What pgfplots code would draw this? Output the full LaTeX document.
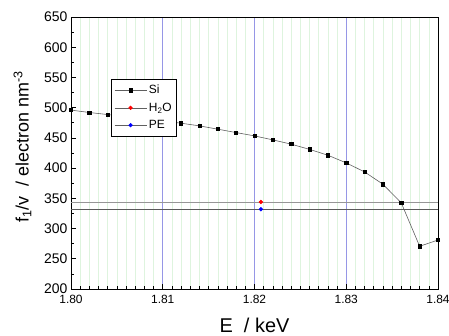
\documentclass[border=0pt]{standalone}
\usepackage{pgfplots}
\pgfplotsset{compat=1.18}
\usepackage{fontspec}
\setmainfont{Liberation Sans}
\definecolor{majgrid}{RGB}{150,150,230}
\definecolor{mingrid}{RGB}{222,244,222}
\definecolor{curve}{RGB}{95,95,95}
\begin{document}
\begin{tikzpicture}
\begin{axis}[
  scale only axis,
  width=367bp, height=272bp,
  at={(0,0)}, anchor=south west,
  xmin=1.80, xmax=1.84, ymin=200, ymax=650,
  xtick={1.80,1.81,1.82,1.83,1.84},
  ytick={200,250,...,650},
  minor x tick num=9,
  minor y tick num=1,
  xmajorgrids, xminorgrids,
  major grid style={majgrid, line width=0.8pt},
  minor grid style={mingrid, line width=0.6pt},
  tick align=inside,
  xtick pos=bottom, ytick pos=left,
  major tick length=5bp, minor tick length=3bp,
  tick style={black, line width=0.6pt},
  axis line style={black, line width=0.8pt},
  /pgf/number format/assume math mode=true,
  x tick label style={/pgf/number format/.cd, fixed, fixed zerofill, precision=2, /tikz/.cd, font=\fontsize{12}{14}\selectfont, yshift=-3bp},
  y tick label style={font=\fontsize{14}{16}\selectfont},
  xlabel={E~~/ keV},
  ylabel={f\textsubscript{1}/v~~/ electron nm\textsuperscript{-3}},
  xlabel style={font=\fontsize{20}{22}\selectfont, yshift=-7bp},
  ylabel style={font=\fontsize{18}{20}\selectfont, yshift=6bp, xshift=6bp},
  legend style={at={(0.109,0.772)}, anchor=north west, draw=black, line width=0.6pt,
    font=\fontsize{12}{14}\selectfont, row sep=3.5bp, inner xsep=3bp, inner ysep=4bp},
  legend cell align=left,
  legend image code/.code={\draw[mark repeat=2,mark phase=2,#1] plot coordinates {(0bp,0bp) (16bp,0bp) (32bp,0bp)};},
]
% horizontal reference lines
\addplot[color={rgb,255:red,150;green,150;blue,150}, line width=0.8pt, forget plot] coordinates {(1.80,344) (1.84,344)};
\addplot[color={rgb,255:red,90;green,90;blue,90}, line width=0.8pt, forget plot] coordinates {(1.80,332) (1.84,332)};
% Si
\addplot[curve, line width=0.6pt, mark=square*, mark size=1.6bp, mark options={black, solid}] coordinates {
 (1.800,496) (1.802,492) (1.804,488.6) (1.806,485) (1.808,481.5) (1.810,478)
 (1.812,474.3) (1.814,469.9) (1.816,464.4) (1.818,458.8) (1.820,453.3)
 (1.822,446.7) (1.824,439.6) (1.826,431) (1.828,421.3) (1.830,408.6)
 (1.832,393.7) (1.834,373.3) (1.836,342.4) (1.838,270.7) (1.840,281)
};
\addlegendentry{Si}
\addplot[curve, line width=0.6pt, mark=*, mark size=1.8bp, mark options={red, draw=red, solid}] coordinates {(1.8207,344)};
\addlegendentry{H\textsubscript{2}O}
\addplot[curve, line width=0.6pt, mark=*, mark size=1.8bp, mark options={blue, draw=blue, solid}] coordinates {(1.8207,332)};
\addlegendentry{PE}
\end{axis}
\pgfresetboundingbox
\path[use as bounding box] (-71bp,-47bp) rectangle (378bp,289bp);
\end{tikzpicture}
\end{document}
